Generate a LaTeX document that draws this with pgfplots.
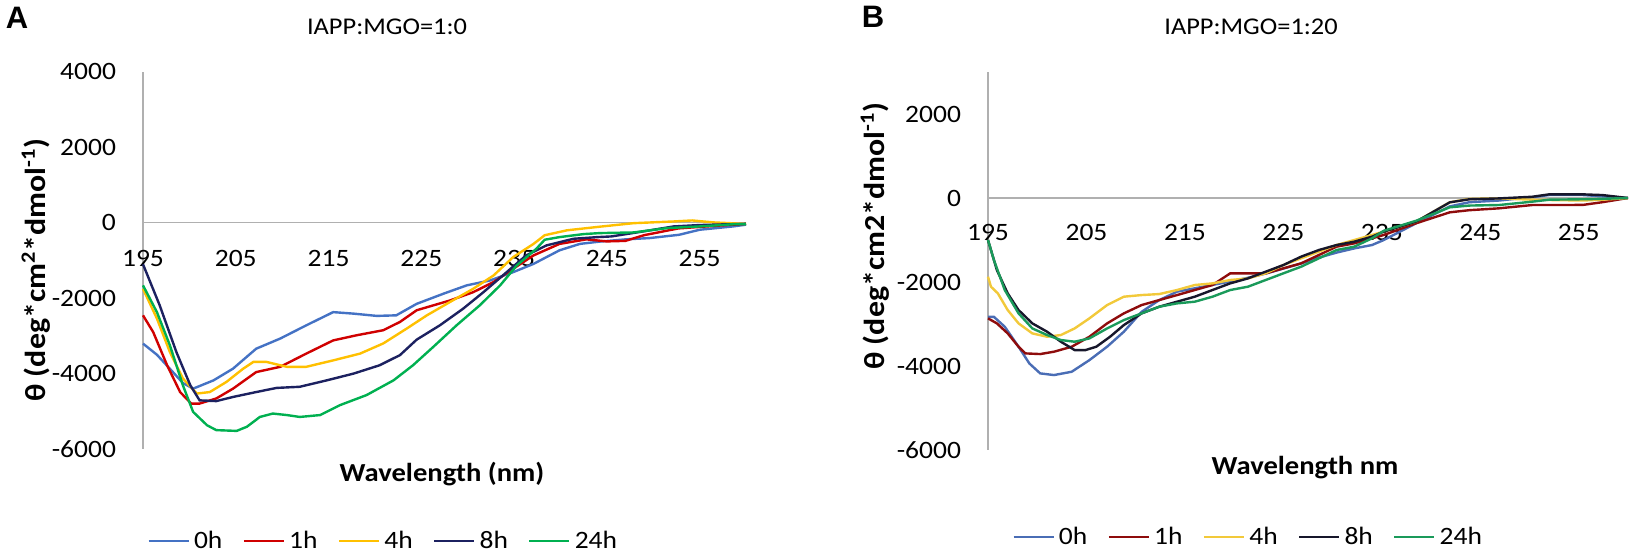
\documentclass[border=0pt]{standalone}
\usepackage{fontspec}
\setmainfont{Carlito}[FakeStretch=1.1]
\newfontfamily\arialfont{Liberation Sans}
\usepackage{pgfplots}
\pgfplotsset{compat=1.18}

\definecolor{cA}{HTML}{4472C4}
\definecolor{cB}{HTML}{D00000}
\definecolor{cC}{HTML}{FFC000}
\definecolor{cD}{HTML}{1C2160}
\definecolor{cE}{HTML}{00B050}
\definecolor{dA}{HTML}{4A6DB5}
\definecolor{dB}{HTML}{8E0C0C}
\definecolor{dC}{HTML}{F2C93A}
\definecolor{dD}{HTML}{17172B}
\definecolor{dE}{HTML}{1A9A5A}
\definecolor{axgray}{HTML}{B0B0B0}

\pgfplotsset{
  cdstyle/.style={
    scale only axis,
    anchor=south west,
    xmin=195, xmax=260,
    axis x line=middle, axis y line=left,
    hide obscured x ticks=false,
    hide obscured y ticks=false,
    axis line style={draw=axgray, line width=0.6pt, -},
    major tick length=0pt,
    xtick={195,205,215,225,235,245,255},
    xticklabels={195,205,215,225,235,245,255},
    tick label style={font=\fontsize{12.5}{14}\selectfont, text=black},
    yticklabel style={anchor=east, xshift=-10pt},
    clip=false,
    legend image code/.code={\draw[#1, line width=1.4pt] (0pt,0pt) -- (20pt,0pt);},
    every axis plot/.append style={line width=1.2pt, mark=none},
  }
}

\begin{document}
\begin{tikzpicture}
\useasboundingbox (0,0) rectangle (825pt,280pt);

% ---------------- Panel A ----------------
\begin{axis}[cdstyle,
  at={(71.5pt,55.5pt)}, width=301.5pt, height=188.5pt,
  ymin=-6000, ymax=4000,
  ytick={-6000,-4000,-2000,0,2000,4000},
  yticklabels={-6000,-4000,-2000,0,2000,4000},
  xticklabel style={anchor=center, yshift=-18pt},
  legend style={at={(0.40,-0.244)}, anchor=center, draw=none, fill=none,
    legend columns=-1, font=\fontsize{12.5}{14}\selectfont,
    /tikz/every even column/.append style={column sep=8pt},
    inner sep=0pt, nodes={inner sep=2pt}},
]
\addplot[cA] coordinates {(195,-3205) (196.5,-3500) (198,-3900) (199.3,-4250) (200.4,-4400) (202.6,-4180) (204.7,-3870) (207.2,-3340) (209.8,-3070) (212.6,-2720) (215.5,-2370) (217.7,-2410) (220.2,-2470) (222.3,-2455) (224.5,-2150) (227.4,-1880) (229.9,-1660) (232.4,-1530) (234.9,-1310) (237.1,-1090) (239.9,-730) (242.1,-560) (244.2,-500) (247,-440) (249.6,-406) (252.8,-318) (255,-185) (258.6,-97) (260,-50)};
\addlegendentry{0h}
\addplot[cB] coordinates {(195,-2455) (196.1,-2900) (197.6,-3780) (199,-4490) (200.2,-4795) (201.1,-4795) (202.9,-4660) (204.7,-4400) (207.2,-3960) (209.8,-3820) (212.6,-3470) (215.5,-3120) (218,-2985) (220.9,-2850) (222.7,-2630) (224.5,-2320) (226.3,-2190) (228.1,-2060) (230.6,-1840) (232.8,-1570) (234.9,-1220) (237.1,-865) (239.9,-560) (242.8,-440) (245,-494) (247,-480) (249,-330) (252.7,-150) (255,-110) (258,-60) (260,-30)};
\addlegendentry{1h}
\addplot[cC] coordinates {(195,-1750) (196.5,-2540) (197.9,-3430) (199.3,-4130) (200.8,-4530) (202.2,-4490) (204,-4220) (205.8,-3870) (206.9,-3690) (208.3,-3690) (210.5,-3820) (212.6,-3820) (215.5,-3650) (218.4,-3470) (220.9,-3200) (223.4,-2810) (225.6,-2455) (228.1,-2100) (230.6,-1750) (232.8,-1395) (234.9,-910) (237.1,-560) (238.3,-330) (240.7,-200) (244,-110) (247.9,-10) (252.2,35) (254.2,62) (256.5,10) (260,-30)};
\addlegendentry{4h}
\addplot[cD] coordinates {(195,-1100) (196.8,-2190) (198.6,-3430) (200.1,-4310) (201.1,-4710) (202.9,-4730) (204.7,-4620) (207.2,-4490) (209.4,-4380) (211.9,-4350) (214.8,-4180) (217.7,-4000) (220.5,-3780) (222.7,-3510) (224.5,-3100) (227,-2720) (229.5,-2280) (231.7,-1840) (234.2,-1310) (236.3,-865) (238.5,-600) (241.4,-424) (244,-380) (245.5,-362) (248.9,-230) (252.2,-97) (255,-60) (258,-40) (260,-30)};
\addlegendentry{8h}
\addplot[cE] coordinates {(195,-1660) (196.5,-2370) (197.9,-3250) (199.3,-4310) (200.4,-5015) (201.9,-5370) (202.9,-5500) (205.1,-5520) (206.2,-5410) (207.6,-5150) (209,-5060) (210.5,-5100) (211.9,-5150) (214.1,-5100) (216.2,-4840) (219.1,-4570) (222,-4180) (224.1,-3780) (226.3,-3290) (228.8,-2720) (231.3,-2190) (233.5,-1660) (235.3,-1130) (237.4,-690) (238.3,-450) (239.9,-380) (242.5,-300) (244.2,-274) (247.9,-256) (251.5,-141) (255,-97) (258.6,-40) (260,-35)};
\addlegendentry{24h}
\end{axis}

% ---------------- Panel B ----------------
\begin{axis}[cdstyle,
  at={(494pt,55pt)}, width=320pt, height=189pt,
  ymin=-6000, ymax=3000,
  ytick={-6000,-4000,-2000,0,2000},
  yticklabels={-6000,-4000,-2000,0,2000},
  xticklabel style={anchor=center, yshift=-17pt},
  legend style={at={(0.408,-0.230)}, anchor=center, draw=none, fill=none,
    legend columns=-1, font=\fontsize{12.5}{14}\selectfont,
    /tikz/every even column/.append style={column sep=8pt},
    inner sep=0pt, nodes={inner sep=2pt}},
]
\addplot[dA] coordinates {(195,-2830) (195.6,-2830) (196.7,-3065) (198.1,-3540) (199.2,-3940) (200.3,-4176) (201.7,-4216) (203.5,-4137) (205.3,-3860) (207.1,-3540) (208.8,-3184) (210.6,-2710) (212.4,-2430) (214.2,-2230) (216,-2150) (217.8,-2070) (219.6,-1990) (221.4,-1900) (223.2,-1800) (225,-1680) (226.8,-1560) (228.6,-1420) (230.4,-1300) (232.2,-1200) (234,-1120) (235.2,-1000) (238.5,-600) (241.9,-200) (243.9,-100) (246.9,-60) (250.3,20) (252,71) (255.4,71) (257.4,40) (260,0)};
\addlegendentry{0h}
\addplot[dB] coordinates {(195,-2866) (195.9,-2985) (197,-3224) (198.1,-3541) (198.8,-3700) (200.3,-3716) (201.7,-3660) (203.5,-3541) (205.3,-3303) (207.1,-2985) (208.8,-2747) (210.6,-2549) (212.4,-2430) (214.2,-2311) (216,-2191) (217.8,-2072) (219.6,-1794) (221.4,-1794) (223.2,-1794) (225,-1675) (226.8,-1556) (228.6,-1358) (230.4,-1159) (232.2,-1080) (235.2,-880) (238.5,-600) (241.9,-341) (243.9,-290) (246.9,-246) (250.3,-167) (252,-167) (255.4,-165) (257.4,-100) (260,0)};
\addlegendentry{1h}
\addplot[dC] coordinates {(195,-1874) (195.3,-2112) (196,-2271) (197,-2668) (198.1,-2985) (199.5,-3224) (201,-3303) (202.4,-3263) (203.8,-3105) (205.3,-2866) (207.1,-2549) (208.8,-2350) (210.6,-2311) (212.4,-2287) (214.2,-2191) (216,-2072) (217.8,-2033) (219.6,-1953) (221.4,-1914) (223.2,-1794) (225,-1596) (226.8,-1437) (228.6,-1278) (230.4,-1120) (232.2,-1000) (234,-881) (235.2,-800) (238.5,-560) (241.9,-103) (243.9,-20) (246.9,-10) (250.3,-40) (252,-48) (255.4,-60) (257.4,-40) (260,0)};
\addlegendentry{4h}
\addplot[dD] coordinates {(195,-1000) (195.9,-1715) (197,-2271) (198.1,-2668) (199.5,-2985) (201,-3184) (202.4,-3422) (203.8,-3621) (204.9,-3621) (206,-3541) (207.4,-3303) (208.8,-3025) (210.6,-2747) (212.4,-2588) (214.2,-2469) (216,-2350) (217.8,-2191) (219.6,-2033) (221.4,-1914) (223.2,-1755) (225,-1596) (226.8,-1397) (228.6,-1239) (230.4,-1120) (232.2,-1040) (234,-921) (235.2,-800) (238.5,-560) (241.9,-103) (243.9,-30) (246.9,-10) (250.3,30) (252,87) (255.4,87) (257.4,70) (260,0)};
\addlegendentry{8h}
\addplot[dE] coordinates {(195,-1000) (195.6,-1477) (196.7,-2191) (198.1,-2747) (199.5,-3105) (201,-3263) (202.4,-3382) (203.8,-3422) (205.3,-3343) (207.1,-3105) (208.8,-2906) (210.6,-2747) (212.4,-2588) (214.2,-2509) (216,-2469) (217.8,-2350) (219.6,-2191) (221.4,-2112) (223.2,-1953) (225,-1794) (226.8,-1636) (228.6,-1437) (230.4,-1239) (232.2,-1159) (234,-960) (235.2,-780) (238.5,-540) (241.9,-222) (243.9,-180) (246.9,-167) (250.3,-87) (252,-40) (255.4,-30) (257.4,-20) (260,0)};
\addlegendentry{24h}
\end{axis}

% ---------------- Texts ----------------
\node[font=\arialfont\bfseries\fontsize{15.5}{17}\selectfont] at (8.5pt,271pt) {A};
\node[font=\arialfont\bfseries\fontsize{15.5}{17}\selectfont] at (436.5pt,271.5pt) {B};
\node[font=\fontsize{12}{14}\selectfont] at (193.5pt,266.5pt) {IAPP:MGO=1:0};
\node[font=\fontsize{12}{14}\selectfont] at (625.5pt,266.5pt) {IAPP:MGO=1:20};
\node[font=\bfseries\fontsize{13}{15}\selectfont] at (221pt,43pt) {Wavelength (nm)};
\node[font=\bfseries\fontsize{13}{15}\selectfont] at (652.5pt,46pt) {Wavelength nm};
\node[font=\bfseries\fontsize{14.5}{16}\selectfont, rotate=90] at (18pt,145pt) {θ (deg*cm\textsuperscript{2}*dmol\textsuperscript{-1})};
\node[font=\bfseries\fontsize{14.5}{16}\selectfont, rotate=90] at (437.5pt,162pt) {θ (deg*cm2*dmol\textsuperscript{-1})};
\end{tikzpicture}
\end{document}
